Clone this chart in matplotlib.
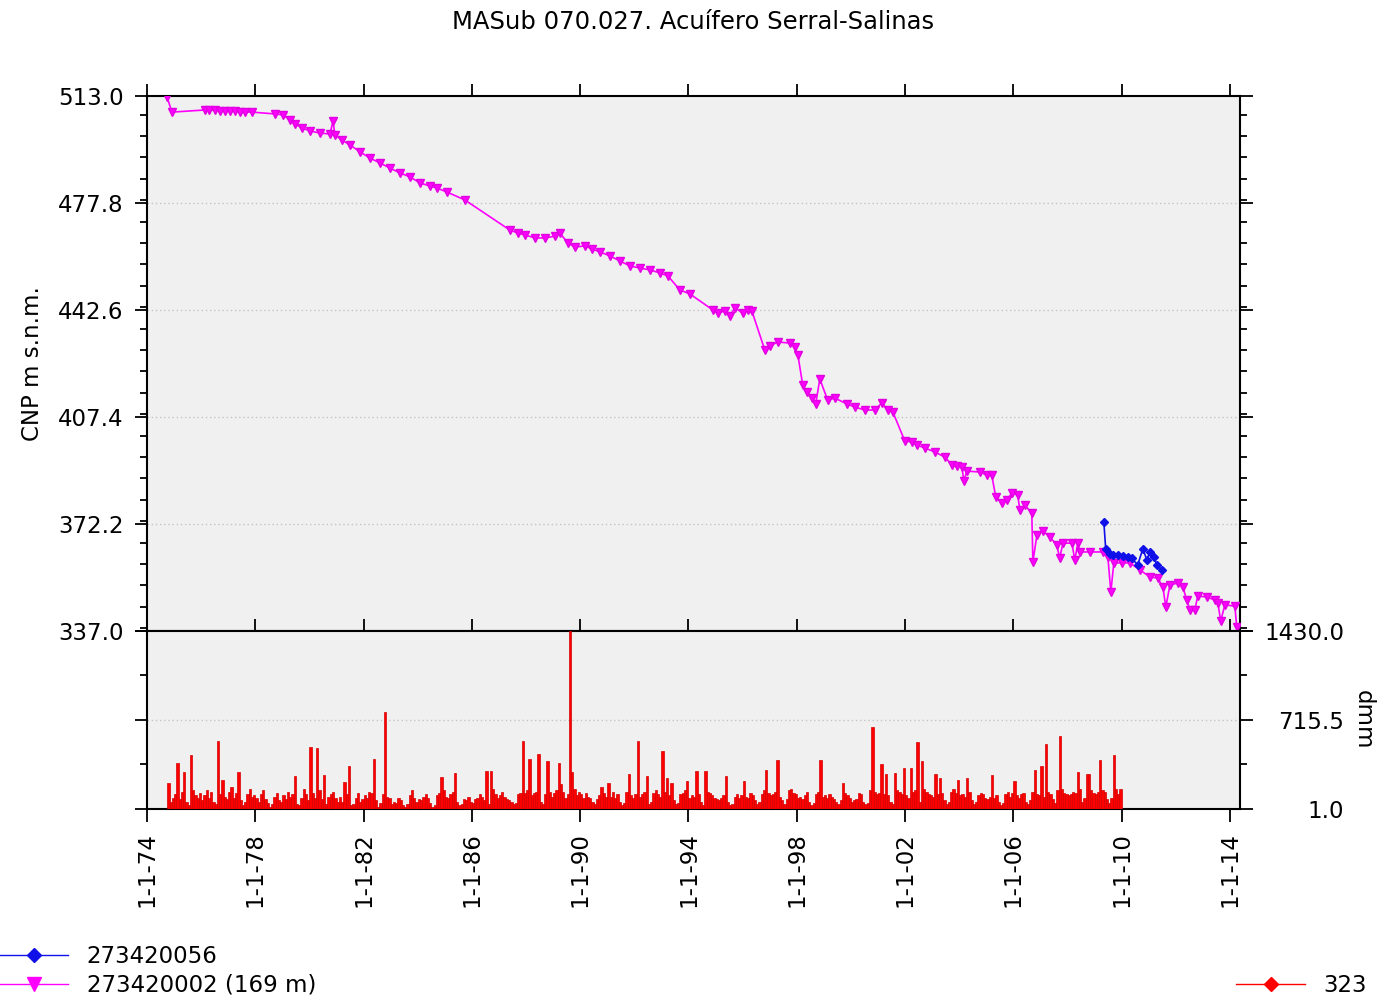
import numpy as np
import matplotlib
matplotlib.use("Agg")
import matplotlib.pyplot as plt
from matplotlib.lines import Line2D
from matplotlib.ticker import MultipleLocator, FixedLocator

plt.rcParams.update({"font.family": "DejaVu Sans", "font.size": 16.5})

# ---- data (decimal year, level m s.n.m.) ----
# 273420002 (169 m) - magenta
p002_t = [1974.74, 1974.92, 1976.14, 1976.30, 1976.51, 1976.70, 1976.88, 1977.05, 1977.25, 1977.45,
          1977.62, 1977.88, 1978.73, 1979.02, 1979.28, 1979.47, 1979.72, 1980.02, 1980.39, 1980.76,
          1980.87, 1980.94, 1981.20, 1981.50, 1981.87, 1982.23, 1982.60, 1982.97, 1983.34, 1983.71,
          1984.08, 1984.45, 1984.71, 1985.08, 1985.74, 1987.40, 1987.70, 1987.96, 1988.33, 1988.70,
          1989.07, 1989.25, 1989.55, 1989.81, 1990.17, 1990.43, 1990.73, 1991.10, 1991.47, 1991.84,
          1992.21, 1992.57, 1992.94, 1993.24, 1993.68, 1994.05, 1994.90, 1995.09, 1995.35, 1995.53,
          1995.71, 1996.01, 1996.19, 1996.34, 1996.82, 1997.01, 1997.30, 1997.74, 1997.93, 1998.04,
          1998.22, 1998.37, 1998.56, 1998.70, 1998.85, 1999.14, 1999.41, 1999.85, 2000.14, 2000.51,
          2000.88, 2001.14, 2001.36, 2001.55, 2001.99, 2002.25, 2002.43, 2002.73, 2003.10, 2003.47,
          2003.73, 2003.91, 2004.10, 2004.17, 2004.28, 2004.76, 2005.02, 2005.20, 2005.35, 2005.57,
          2005.76, 2005.94, 2006.16, 2006.24, 2006.42, 2006.68, 2006.72, 2006.87, 2007.09, 2007.35,
          2007.60, 2007.71, 2007.83, 2008.16, 2008.27, 2008.38, 2008.45, 2008.82, 2009.30, 2009.49,
          2009.60, 2009.71, 2010.00, 2010.30, 2010.67, 2011.04, 2011.33, 2011.52, 2011.63, 2011.78,
          2012.07, 2012.26, 2012.40, 2012.52, 2012.70, 2012.81, 2013.14, 2013.44, 2013.55, 2013.66,
          2013.81, 2014.18, 2014.25]
p002_h = [512.7, 507.7, 508.4, 508.3, 508.4, 508.2, 508.1, 508.0, 508.1, 507.9,
          507.7, 507.7, 507.1, 506.8, 505.1, 503.8, 502.5, 501.5, 500.8, 500.5,
          504.8, 500.2, 498.5, 496.9, 494.6, 492.6, 491.0, 489.3, 487.7, 486.4,
          484.4, 483.4, 482.7, 481.4, 478.8, 468.9, 467.9, 467.3, 466.3, 466.3,
          466.9, 467.9, 464.6, 463.3, 463.7, 462.7, 461.7, 460.4, 458.7, 457.1,
          456.4, 455.8, 454.8, 453.8, 449.2, 447.9, 442.6, 441.6, 442.3, 440.6,
          443.3, 441.6, 442.6, 442.3, 429.4, 430.8, 432.1, 431.7, 430.4, 427.8,
          417.9, 415.6, 413.6, 411.7, 419.9, 413.0, 413.6, 411.7, 410.7, 409.7,
          409.7, 412.0, 409.7, 409.0, 399.5, 399.2, 398.2, 397.2, 395.9, 394.2,
          391.6, 391.3, 390.9, 386.3, 389.6, 389.3, 388.3, 388.3, 381.1, 379.1,
          380.1, 382.4, 381.7, 376.8, 378.4, 375.8, 359.7, 368.6, 369.9, 367.9,
          365.3, 361.0, 365.9, 365.9, 360.4, 365.9, 363.0, 363.0, 363.0, 361.3,
          349.8, 359.4, 359.4, 359.4, 357.1, 354.8, 354.4, 351.5, 344.9, 352.1,
          352.8, 351.5, 347.2, 343.9, 343.9, 348.5, 348.2, 347.2, 346.2, 340.3,
          345.6, 345.2, 338.3]

# 273420056 - blue
p056_t = [2009.34, 2009.41, 2009.56, 2009.67, 2009.86, 2010.04, 2010.22, 2010.37, 2010.59, 2010.78,
          2010.93, 2011.04, 2011.19, 2011.30, 2011.48]
p056_h = [372.9, 364.0, 362.3, 362.0, 362.0, 361.7, 361.3, 361.0, 358.7, 364.0,
          360.4, 363.0, 361.3, 358.7, 357.1]

# 323 - monthly rainfall (dmm), Jan..Dec per year
rain_years = list(range(1974, 2010))
rain = [
    [0, 0, 0, 0, 0, 0, 0, 0, 0, 206, 60, 90],
    [120, 367, 80, 140, 300, 60, 30, 434, 150, 110, 90, 130],
    [70, 110, 150, 90, 140, 60, 40, 549, 120, 233, 100, 80],
    [140, 180, 90, 130, 300, 70, 30, 60, 120, 160, 100, 110],
    [90, 60, 120, 150, 80, 50, 20, 40, 100, 130, 70, 60],
    [110, 80, 140, 100, 120, 268, 40, 30, 90, 165, 120, 70],
    [500, 130, 90, 492, 150, 80, 275, 40, 100, 120, 140, 90],
    [60, 100, 60, 220, 120, 348, 30, 40, 90, 130, 60, 80],
    [110, 90, 140, 130, 401, 70, 20, 50, 120, 781, 100, 90],
    [40, 60, 50, 90, 70, 30, 20, 40, 110, 150, 90, 60],
    [80, 70, 100, 120, 90, 50, 20, 30, 110, 130, 260, 150],
    [100, 90, 120, 140, 294, 60, 30, 40, 80, 70, 100, 60],
    [50, 80, 90, 120, 100, 70, 306, 40, 306, 160, 120, 90],
    [110, 140, 100, 80, 70, 60, 40, 50, 120, 130, 548, 130],
    [150, 399, 110, 130, 140, 439, 60, 40, 120, 386, 140, 100],
    [130, 150, 367, 200, 140, 90, 120, 1430, 300, 160, 110, 140],
    [120, 90, 130, 100, 90, 60, 40, 80, 110, 180, 130, 100],
    [210, 100, 140, 90, 120, 60, 30, 50, 140, 281, 110, 90],
    [120, 546, 100, 120, 140, 262, 40, 60, 130, 150, 120, 100],
    [463, 140, 249, 110, 209, 70, 40, 50, 120, 130, 150, 222],
    [90, 110, 100, 308, 120, 60, 30, 308, 140, 130, 110, 90],
    [80, 70, 90, 110, 262, 60, 30, 40, 100, 120, 90, 110],
    [222, 100, 90, 130, 110, 70, 40, 60, 120, 150, 316, 130],
    [110, 120, 140, 391, 100, 70, 40, 80, 150, 160, 130, 120],
    [90, 100, 80, 110, 140, 60, 30, 50, 120, 140, 396, 100],
    [110, 90, 120, 100, 80, 60, 40, 70, 209, 130, 110, 90],
    [60, 70, 80, 130, 120, 60, 40, 50, 150, 656, 140, 120],
    [130, 364, 120, 281, 110, 60, 40, 294, 150, 140, 120, 327],
    [110, 90, 329, 140, 150, 535, 60, 383, 160, 140, 120, 110],
    [100, 281, 120, 250, 130, 70, 40, 60, 140, 160, 130, 236],
    [110, 120, 100, 249, 140, 70, 40, 60, 110, 130, 120, 90],
    [80, 100, 270, 90, 110, 60, 30, 50, 120, 140, 100, 130],
    [222, 110, 90, 120, 130, 60, 40, 70, 140, 316, 120, 110],
    [343, 100, 525, 140, 120, 80, 50, 150, 584, 160, 130, 120],
    [110, 120, 140, 130, 302, 160, 60, 90, 281, 280, 150, 130],
    [120, 140, 391, 150, 140, 80, 50, 90, 436, 160, 120, 161],
]

head_ticks = [337.0, 372.2, 407.4, 442.6, 477.8, 513.0]
rain_ticks = [1.0, 715.5, 1430.0]
year_ticks = list(range(1974, 2015, 4))
year_labels = ["1-1-%02d" % (y % 100) for y in year_ticks]

# flatten monthly rain into time positions
rt, rv = [], []
for y, row in zip(rain_years, rain):
    for m, v in enumerate(row):
        rt.append(y + (m + 0.5) / 12.0)
        rv.append(v)

W, H = 1383, 1001
fig = plt.figure(figsize=(W / 100, H / 100), dpi=100)
L, R = 147 / W, 1240 / W
ax = fig.add_axes([L, 1 - 631 / H, R - L, (631 - 96) / H])
axr = fig.add_axes([L, 1 - 809 / H, R - L, (809 - 631) / H], sharex=ax)
XLIM = (1974.0, 2014.37)

GRID = dict(color="#c4c4c4", ls=(0, (1, 2)), lw=1.0)
for a in (ax, axr):
    a.set_facecolor("#f0f0f0")
    for s in a.spines.values():
        s.set_linewidth(1.5)
    a.set_xlim(*XLIM)
    a.set_xticks(year_ticks)

# --- heads ---
ax.plot(p002_t, p002_h, color="#ff00ff", lw=1.2, marker="v", ms=6, mec="#e000e0", zorder=3)
ax.plot(p056_t, p056_h, color="#1010e8", lw=1.2, marker="D", ms=4, zorder=4)
ax.set_ylim(head_ticks[0], head_ticks[-1])
ax.set_yticks(head_ticks)
ax.set_yticklabels(["%.1f" % v for v in head_ticks])
ax.yaxis.set_minor_locator(MultipleLocator(7.04))
for v in head_ticks[1:-1]:
    ax.axhline(v, zorder=1, **GRID)
ax.tick_params(axis="y", which="major", direction="out", length=9, width=1.3,
               left=True, right=True, labelleft=True, labelright=False, pad=8)
ax.tick_params(axis="y", which="minor", direction="out", length=5, width=1.3, left=True, right=True)
ax.tick_params(axis="x", which="major", direction="out", length=9, width=1.3,
               top=True, bottom=False, labelbottom=False, labeltop=False)
ax.set_ylabel("CNP m s.n.m.", labelpad=10)
ax.set_title("MASub 070.027. Acuífero Serral-Salinas", fontsize=17.5, pad=48)

# --- rainfall ---
axr.bar(rt, rv, width=1 / 12.0, color="#ff0000", edgecolor="#d40000", linewidth=0.5, zorder=3)
axr.set_ylim(rain_ticks[0], rain_ticks[-1])
axr.set_yticks(rain_ticks)
axr.set_yticklabels(["%.1f" % v for v in rain_ticks])
axr.yaxis.set_minor_locator(FixedLocator([358.25, 1072.75]))
axr.axhline(rain_ticks[1], zorder=1, **GRID)
axr.tick_params(axis="y", which="major", direction="out", length=9, width=1.3,
                left=True, right=True, labelleft=False, labelright=True, pad=66)
axr.tick_params(axis="y", which="minor", direction="out", length=5, width=1.3, left=True, right=True)
for t in axr.get_yticklabels():
    t.set_horizontalalignment("right")
axr.tick_params(axis="x", which="major", direction="out", length=9, width=1.3,
                top=True, bottom=True, labelbottom=True, pad=8)
axr.set_xticklabels(year_labels, rotation=90)
# right-hand unit label, placed beside the right tick labels
axr.text(1.1125, 0.5, "dmm", transform=axr.transAxes, rotation=270,
         ha="center", va="center", fontsize=16.5)

# --- legends ---
h056 = Line2D([], [], color="#1010e8", lw=1.0, marker="D", ms=7)
h002 = Line2D([], [], color="#ff00ff", lw=1.0, marker="v", ms=10)
h323 = Line2D([], [], color="#ff0000", lw=1.0, marker="D", ms=7, mfc="#ff0000")
fig.legend([h056, h002], ["273420056", "273420002 (169 m)"], loc="lower left",
           bbox_to_anchor=(-0.012, -0.012), frameon=False, handlelength=3.0, handletextpad=0.8,
           labelspacing=0.25, borderpad=0.2, fontsize=16.5)
fig.legend([h323], ["323"], loc="lower right", bbox_to_anchor=(1.0, -0.012), frameon=False,
           handlelength=3.0, handletextpad=0.8, borderpad=0.2, fontsize=16.5)

fig.savefig("out.png", dpi=100, facecolor="white")
